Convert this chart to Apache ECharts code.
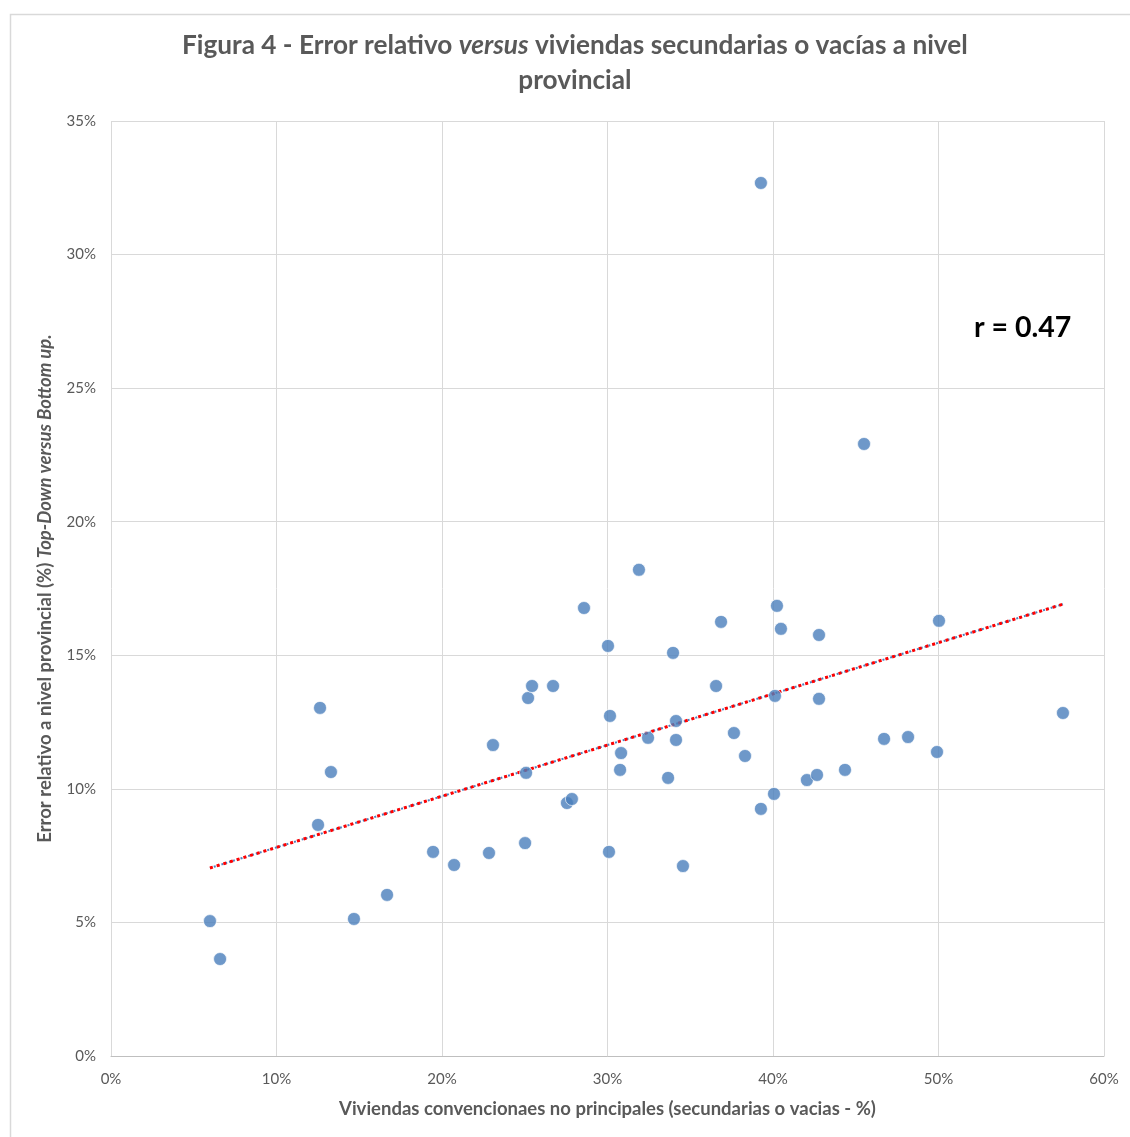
<!DOCTYPE html>
<html>
<head>
<meta charset="utf-8">
<script src="https://cdn.jsdelivr.net/npm/echarts@6/dist/echarts.min.js"></script>
<style>
  html, body { margin: 0; padding: 0; background: #fff; }
  #chart { width: 1130px; height: 1137px; }
</style>
</head>
<body>
<div id="chart"></div>
<script>
// viviendas no principales (%) por provincia
const viviendasNoPrincipales = [
  5.98, 6.59, 12.63, 12.51, 13.29, 14.68, 16.68, 19.46, 20.73, 22.84,
  23.08, 25.02, 25.08, 25.20, 25.44, 26.71, 28.58, 27.55, 27.85, 30.03,
  30.15, 30.09, 30.82, 30.76, 31.90, 32.45, 33.66, 33.96, 34.14, 34.14,
  34.56, 36.56, 36.86, 37.64, 38.31, 39.27, 39.27, 40.06, 40.12, 40.24,
  40.48, 42.05, 42.66, 42.78, 42.78, 44.35, 45.50, 46.71, 48.16, 49.91,
  50.03, 57.52
];
// error relativo Top-Down vs Bottom-up (%)
const errorRelativo = [
  5.05, 3.63, 13.03, 8.65, 10.63, 5.13, 6.03, 7.64, 7.15, 7.60,
  11.64, 7.97, 10.60, 13.40, 13.85, 13.85, 16.77, 9.47, 9.62, 15.35,
  12.73, 7.64, 11.34, 10.71, 18.20, 11.91, 10.41, 15.09, 12.54, 11.83,
  7.11, 13.85, 16.25, 12.09, 11.23, 32.68, 9.25, 9.81, 13.48, 16.85,
  15.99, 10.33, 10.52, 15.76, 13.37, 10.71, 22.91, 11.87, 11.94, 11.38,
  16.29, 12.84
];
const xTicks = [0, 10, 20, 30, 40, 50, 60];
const yTicks = [0, 5, 10, 15, 20, 25, 30, 35];
const rLabel = 'r = 0.47';

const points = viviendasNoPrincipales.map((x, i) => [x, errorRelativo[i]]);

// linear trendline (least squares), drawn from min x to max x
const n = points.length;
let sx = 0, sy = 0, sxx = 0, sxy = 0;
points.forEach(([x, y]) => { sx += x; sy += y; sxx += x * x; sxy += x * y; });
const slope = (n * sxy - sx * sy) / (n * sxx - sx * sx);
const intercept = (sy - slope * sx) / n;
const xMin = Math.min(...viviendasNoPrincipales);
const xMax = Math.max(...viviendasNoPrincipales);
const trend = [[xMin, intercept + slope * xMin], [xMax, intercept + slope * xMax]];

const font = 'Lato, "Open Sans", sans-serif';
const grey = '#595959';

const chart = echarts.init(document.getElementById('chart'));
chart.setOption({
  animation: false,
  textStyle: { fontFamily: font },
  title: {
    left: 177,
    top: 23,
    textAlign: 'left',
    text: '{b|Figura 4 - Error relativo }{i|versus}{b| viviendas secundarias o vacías a nivel}\n{c|provincial}',
    textStyle: {
      rich: {
        b: { fontFamily: font, fontSize: 26.2, fontWeight: 'bold', color: grey, lineHeight: 35 },
        i: { fontFamily: font, fontSize: 26.2, fontWeight: 'bold', fontStyle: 'italic', color: grey, lineHeight: 35 },
        c: { fontFamily: font, fontSize: 26.2, fontWeight: 'bold', color: grey, lineHeight: 35, width: 784, align: 'center' }
      }
    }
  },
  graphic: [
    {
      type: 'rect',
      left: 8, top: 12,
      shape: { width: 1200, height: 1200 },
      style: { fill: 'none', stroke: '#d9d9d9', lineWidth: 1.5 },
      silent: true
    },
    {
      type: 'text',
      left: 974, top: 313,
      style: { text: rLabel, fontFamily: font, fontSize: 28.5, fontWeight: 'bold', fill: '#000' }
    }
  ],
  grid: { left: 111, right: 26, top: 121, bottom: 81 },
  xAxis: {
    type: 'value',
    min: xTicks[0], max: xTicks[xTicks.length - 1], interval: 10,
    name: 'Viviendas convencionaes no principales (secundarias o vacias - %)',
    nameLocation: 'middle',
    nameGap: 44,
    nameTextStyle: { fontFamily: font, fontSize: 18.5, fontWeight: 'bold', color: grey },
    axisLine: { lineStyle: { color: '#bfbfbf' } },
    axisTick: { show: false },
    axisLabel: { formatter: '{value}%', fontSize: 15, color: grey, margin: 16 },
    splitLine: { lineStyle: { color: '#d9d9d9' } }
  },
  yAxis: {
    type: 'value',
    min: yTicks[0], max: yTicks[yTicks.length - 1], interval: 5,
    name: '{b|Error relativo a nivel provincial (%) }{i|Top-Down versus Bottom up.}',
    nameLocation: 'middle',
    nameGap: 56,
    nameTextStyle: {
      rich: {
        b: { fontFamily: font, fontSize: 18.5, fontWeight: 'bold', color: grey },
        i: { fontFamily: font, fontSize: 18.5, fontWeight: 'bold', fontStyle: 'italic', color: grey }
      }
    },
    axisLine: { show: false },
    axisTick: { show: false },
    axisLabel: { formatter: '{value}%', fontSize: 15, color: grey, margin: 15 },
    splitLine: { lineStyle: { color: '#d9d9d9' } }
  },
  series: [
    {
      type: 'line',
      data: trend,
      symbol: 'none',
      lineStyle: { color: '#4f81bd', width: 2, type: [2, 2] },
      z: 2
    },
    {
      type: 'line',
      data: trend,
      symbol: 'none',
      lineStyle: { color: '#ff0000', width: 3, type: [3, 4] },
      z: 3
    },
    {
      type: 'scatter',
      data: points,
      symbol: 'circle',
      symbolSize: 13,
      itemStyle: { color: '#4a7ebb', borderColor: '#ffffff', borderWidth: 0.8 },
      z: 4
    }
  ]
});
</script>
</body>
</html>
